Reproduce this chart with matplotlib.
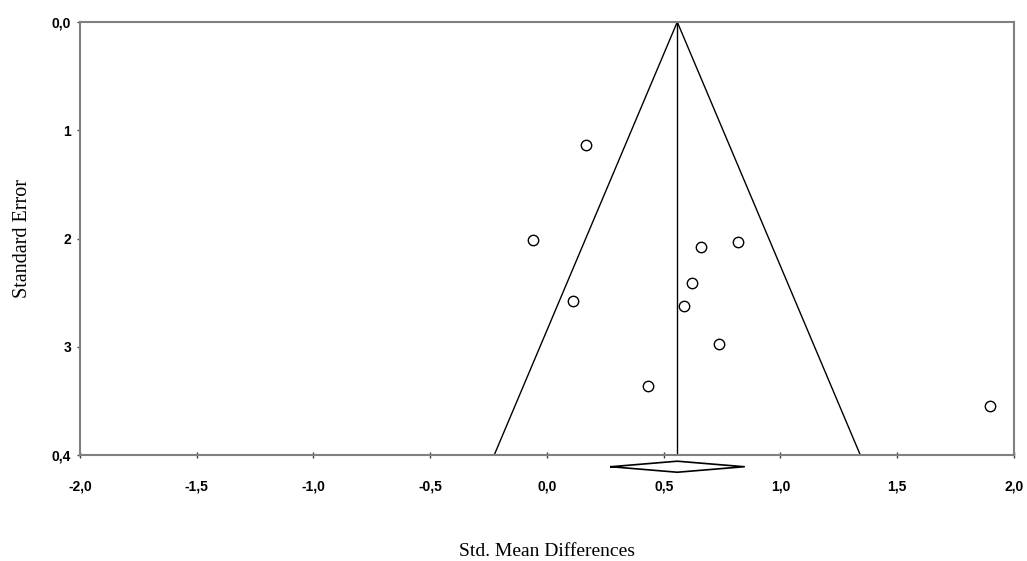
import matplotlib
matplotlib.use("Agg")
import matplotlib.pyplot as plt
import numpy as np

# Study effects (std. mean difference) and their standard errors
effects = [0.165, -0.059, 0.111, 0.658, 0.820, 0.620, 0.585, 0.735, 0.432, 1.898]
std_errors = [0.1137, 0.2010, 0.2575, 0.2076, 0.2032, 0.2410, 0.2624, 0.2975, 0.3360, 0.3548]

# Pooled estimate and its confidence interval (diamond)
pooled = 0.558
ci_low = 0.274
ci_high = 0.845

x_ticks = [-2.0, -1.5, -1.0, -0.5, 0.0, 0.5, 1.0, 1.5, 2.0]
x_labels = ["-2,0", "-1,5", "-1,0", "-0,5", "0,0", "0,5", "1,0", "1,5", "2,0"]
y_ticks = [0.0, 0.1, 0.2, 0.3, 0.4]
y_labels = ["0,0", "1", "2", "3", "0,4"]

se_max = 0.4

fig = plt.figure(figsize=(10.27, 5.61), dpi=100)
ax = fig.add_axes([0.0779, 0.1889, 0.9094, 0.7719])

# funnel
ax.plot([pooled - 1.96 * se_max, pooled, pooled + 1.96 * se_max], [se_max, 0, se_max],
        color='black', linewidth=1.0)
ax.plot([pooled, pooled], [0, se_max], color='black', linewidth=1.0)

# studies
ax.plot(effects, std_errors, linestyle='none', marker='o', markersize=7.5,
        markerfacecolor='white', markeredgecolor='black', markeredgewidth=1.0)

# pooled diamond below the axis
d_mid = se_max + 0.0108
d_half = 0.0051
ax.plot([ci_low, pooled, ci_high, pooled, ci_low],
        [d_mid, d_mid - d_half, d_mid, d_mid + d_half, d_mid],
        color='black', linewidth=1.2, clip_on=False)

ax.set_xlim(-2.0, 2.0)
ax.set_ylim(se_max, 0.0)

for s in ax.spines.values():
    s.set_color('#808080')
    s.set_linewidth(1.5)

ax.set_xticks(x_ticks)
ax.set_xticklabels(x_labels, fontsize=10, fontweight='bold', family='Liberation Sans')
ax.set_yticks(y_ticks)
ax.set_yticklabels(y_labels, fontsize=10, fontweight='bold', family='Liberation Sans')
ax.tick_params(axis='x', direction='inout', length=5, width=1, color='#404040', pad=15)
ax.tick_params(axis='y', direction='out', length=2.5, width=1, color='#404040', pad=4)

ax.set_xlabel('Std. Mean Differences', fontsize=14, family='Liberation Serif', labelpad=36)
ax.set_ylabel('Standard Error', fontsize=14.5, family='Liberation Serif', labelpad=14)

plt.savefig('out.png', dpi=100)
